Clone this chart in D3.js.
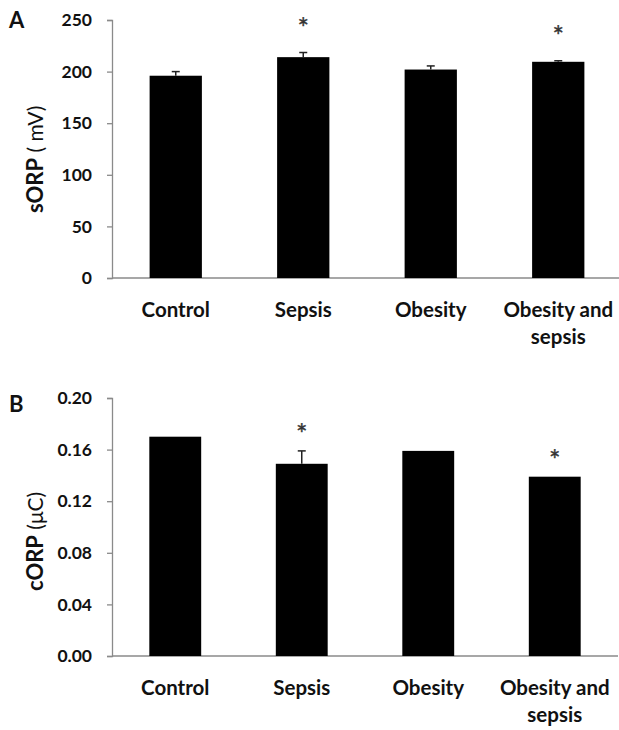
<!DOCTYPE html>
<html>
<head>
<meta charset="utf-8">
<script src="https://cdn.jsdelivr.net/npm/d3@7"></script>
<style>
  body { margin: 0; background: #fff; }
  svg text { font-family: Lato, "Open Sans", sans-serif; }
</style>
</head>
<body>
<div id="chart-area"></div>
<script>
// 1. Data
var groups = ["Control", "Sepsis", "Obesity", "Obesity and sepsis"];

var sorp_mean = [196, 214, 202, 209.5];
var sorp_err = [4, 4.5, 3.5, 1];
var sorp_star = [false, true, false, true];
var sorp_ticks = [0, 50, 100, 150, 200, 250];

var corp_mean = [0.170, 0.149, 0.159, 0.139];
var corp_err = [0, 0.010, 0, 0];
var corp_star = [false, true, false, true];
var corp_ticks = [0, 0.04, 0.08, 0.12, 0.16, 0.20];

var svg_width = 619;
var svg_height = 730;

var svg = d3.select("#chart-area").append("svg")
    .attr("width", svg_width)
    .attr("height", svg_height);

// 2. One panel drawer
function draw_panel(opt) {
    var g = svg.append("g").attr("class", "panel");

    var x_scaling = d3.scaleBand()
        .domain(groups)
        .range([opt.left, opt.right])
        .paddingInner(0.59)
        .paddingOuter(0.295);

    var y_scaling = d3.scaleLinear()
        .domain([0, opt.max])
        .range([opt.bottom, opt.top]);

    // y axis
    var y_axis_call = d3.axisLeft(y_scaling)
        .tickValues(opt.ticks)
        .tickSize(5)
        .tickPadding(15)
        .tickFormat(opt.format);

    var y_axis = g.append("g")
        .attr("class", "y_axis")
        .attr("transform", "translate(" + opt.left + ",0)")
        .call(y_axis_call);
    y_axis.select(".domain").attr("stroke", "#8a8a8a").attr("stroke-width", 1.3);
    y_axis.selectAll(".tick line").attr("stroke", "#8a8a8a").attr("stroke-width", 1.3);
    y_axis.selectAll(".tick text")
        .attr("font-size", "17.5px")
        .attr("font-weight", "bold")
        .attr("fill", "#111")
        .attr("font-family", "Lato, sans-serif");

    // x axis (line only)
    g.append("line")
        .attr("x1", opt.left)
        .attr("x2", opt.right)
        .attr("y1", opt.bottom)
        .attr("y2", opt.bottom)
        .attr("stroke", "#8a8a8a")
        .attr("stroke-width", 1.3);

    // bars
    g.selectAll("rect.bar").data(opt.mean)
        .enter().append("rect")
        .attr("class", "bar")
        .attr("x", function (d, i) { return x_scaling(groups[i]); })
        .attr("width", x_scaling.bandwidth())
        .attr("y", function (d) { return y_scaling(d); })
        .attr("height", function (d) { return opt.bottom - y_scaling(d); })
        .attr("fill", "#000");

    // error bars
    opt.mean.forEach(function (d, i) {
        if (!opt.err[i]) return;
        var cx = x_scaling(groups[i]) + x_scaling.bandwidth() / 2;
        g.append("line")
            .attr("x1", cx).attr("x2", cx)
            .attr("y1", y_scaling(d))
            .attr("y2", y_scaling(d + opt.err[i]))
            .attr("stroke", "#222").attr("stroke-width", 1.5);
        g.append("line")
            .attr("x1", cx - 4).attr("x2", cx + 4)
            .attr("y1", y_scaling(d + opt.err[i]))
            .attr("y2", y_scaling(d + opt.err[i]))
            .attr("stroke", "#222").attr("stroke-width", 1.5);
    });

    // stars
    opt.mean.forEach(function (d, i) {
        if (!opt.star[i]) return;
        var cx = x_scaling(groups[i]) + x_scaling.bandwidth() / 2;
        g.append("text")
            .attr("x", cx)
            .attr("y", y_scaling(d + opt.err[i]) - opt.star_gap)
            .attr("text-anchor", "middle")
            .attr("font-size", "27px")
            .attr("fill", "#333")
            .attr("stroke", "#333")
            .attr("stroke-width", 0.4)
            .attr("font-family", "DejaVu Sans, sans-serif")
            .text("*");
    });

    // x labels
    groups.forEach(function (name, i) {
        var cx = x_scaling(name) + x_scaling.bandwidth() / 2;
        var lines = name == "Obesity and sepsis" ? ["Obesity and", "sepsis"] : [name];
        lines.forEach(function (line, j) {
            g.append("text")
                .attr("x", cx)
                .attr("y", opt.bottom + 39 + j * 27)
                .attr("text-anchor", "middle")
                .attr("font-size", "20.5px")
                .attr("font-weight", "bold")
                .attr("fill", "#111")
                .text(line);
        });
    });

    // y title
    var title = g.append("text")
        .attr("transform", "translate(43," + (opt.bottom - 65) + ") rotate(-90)")
        .attr("text-anchor", "start")
        .attr("fill", "#111");
    title.append("tspan")
        .attr("font-size", "22px")
        .attr("font-weight", "bold")
        .text(opt.title);
    title.append("tspan")
        .attr("font-size", "21px")
        .text(opt.unit);

    // panel letter
    g.append("text")
        .attr("x", 9)
        .attr("y", opt.letter_y)
        .attr("font-size", "22px")
        .attr("font-weight", "bold")
        .attr("fill", "#111")
        .text(opt.letter);
}

draw_panel({
    letter: "A", title: "sORP", unit: " ( mV)",
    mean: sorp_mean, err: sorp_err, star: sorp_star, ticks: sorp_ticks,
    max: 250, format: d3.format("d"),
    left: 112, right: 622, top: 20, bottom: 278,
    star_gap: 15, letter_y: 28
});

draw_panel({
    letter: "B", title: "cORP", unit: " (\u03bcC)",
    mean: corp_mean, err: corp_err, star: corp_star, ticks: corp_ticks,
    max: 0.20, format: d3.format(".2f"),
    left: 112, right: 618, top: 398, bottom: 656,
    star_gap: 7, letter_y: 412
});
</script>
</body>
</html>
